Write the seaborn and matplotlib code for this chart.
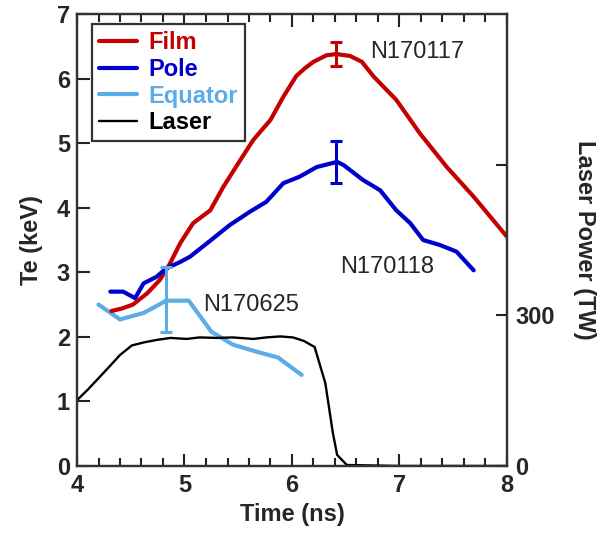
import numpy as np
import pandas as pd
import matplotlib
matplotlib.use("Agg")
import matplotlib.pyplot as plt
from matplotlib.lines import Line2D
from matplotlib.ticker import MultipleLocator
import seaborn as sns

# ---- data ----
film_t = [4.32, 4.42, 4.52, 4.65, 4.77, 4.86, 4.96, 5.08, 5.24, 5.36, 5.52, 5.64, 5.80,
          5.92, 6.04, 6.12, 6.20, 6.32, 6.41, 6.54, 6.65, 6.76, 6.97, 7.19, 7.44, 7.69, 8.00]
film_te = [2.40, 2.44, 2.50, 2.67, 2.88, 3.12, 3.45, 3.76, 3.96, 4.32, 4.74, 5.05, 5.36,
           5.72, 6.04, 6.16, 6.26, 6.36, 6.38, 6.35, 6.26, 6.03, 5.67, 5.15, 4.63, 4.17, 3.55]

pole_t = [4.31, 4.43, 4.54, 4.62, 4.74, 4.83, 4.96, 5.05, 5.21, 5.42, 5.61, 5.76, 5.92,
          6.07, 6.23, 6.42, 6.48, 6.66, 6.82, 6.97, 7.10, 7.22, 7.38, 7.53, 7.69]
pole_te = [2.70, 2.70, 2.60, 2.83, 2.93, 3.06, 3.16, 3.24, 3.45, 3.73, 3.94, 4.09, 4.38,
           4.48, 4.63, 4.71, 4.66, 4.43, 4.27, 3.96, 3.76, 3.50, 3.42, 3.32, 3.03]

eq_t = [4.20, 4.40, 4.62, 4.83, 5.04, 5.25, 5.45, 5.67, 5.87, 6.09]
eq_te = [2.50, 2.27, 2.37, 2.56, 2.56, 2.08, 1.88, 1.77, 1.68, 1.41]

laser_t = [4.00, 4.10, 4.21, 4.31, 4.40, 4.51, 4.62, 4.74, 4.87, 5.02, 5.14, 5.30, 5.45,
           5.64, 5.76, 5.89, 6.01, 6.11, 6.21, 6.31, 6.38, 6.42, 6.51, 7.00, 8.00]
laser_tw = [131, 152, 177, 200, 221, 240, 246, 251, 255, 253, 256, 255, 256,
            253, 256, 258, 256, 249, 237, 165, 66, 22, 2, 0, 0]

# error bars: time, value, lower err, upper err
film_err = (6.41, 6.38, 0.18, 0.19)
pole_err = (6.41, 4.71, 0.32, 0.33)
eq_err = (4.83, 2.56, 0.49, 0.52)

series_names = ["Film", "Pole", "Equator", "Laser"]
colors = {"Film": "#C40000", "Pole": "#0000CC", "Equator": "#5CACE8", "Laser": "#000000"}
shot_labels = ["N170117", "N170118", "N170625"]
right_ticks = [0, 300, 600]
right_ticklabels = ["0", "300", ""]

# ---- figure ----
sns.set_style("ticks")
plt.rcParams["font.family"] = ["Liberation Sans", "DejaVu Sans"]

fig = plt.figure(figsize=(6.08, 5.36), dpi=100)
ax = fig.add_axes([77 / 608, 1 - 466 / 536, 430 / 608, 452 / 536])

df_film = pd.DataFrame({"t": film_t, "te": film_te})
df_pole = pd.DataFrame({"t": pole_t, "te": pole_te})
df_eq = pd.DataFrame({"t": eq_t, "te": eq_te})
df_laser = pd.DataFrame({"t": laser_t, "p": laser_tw})

sns.lineplot(data=df_eq, x="t", y="te", ax=ax, color=colors["Equator"], lw=3.0,
             sort=False, estimator=None)
sns.lineplot(data=df_film, x="t", y="te", ax=ax, color=colors["Film"], lw=3.0,
             sort=False, estimator=None)
sns.lineplot(data=df_pole, x="t", y="te", ax=ax, color=colors["Pole"], lw=3.0,
             sort=False, estimator=None)

for (t, v, lo, hi), c in [(film_err, colors["Film"]), (pole_err, colors["Pole"]),
                          (eq_err, colors["Equator"])]:
    ax.errorbar([t], [v], yerr=[[lo], [hi]], fmt="none", ecolor=c, elinewidth=2.2,
                capsize=4, capthick=2.2)

ax.set_xlim(4, 8)
ax.set_ylim(0, 7)
ax.xaxis.set_major_locator(MultipleLocator(1))
ax.xaxis.set_minor_locator(MultipleLocator(0.2))
ax.yaxis.set_major_locator(MultipleLocator(1))

ax.text(6.73, 6.41, shot_labels[0], fontsize=17, va="center", ha="left")
ax.text(6.45, 3.08, shot_labels[1], fontsize=17, va="center", ha="left")
ax.text(5.17, 2.49, shot_labels[2], fontsize=17, va="center", ha="left")

ax.set_xlabel("Time (ns)", fontsize=17, fontweight="bold", labelpad=4)
ax.set_ylabel("Te (keV)", fontsize=17, fontweight="bold", labelpad=10)

ax2 = ax.twinx()
sns.lineplot(data=df_laser, x="t", y="p", ax=ax2, color=colors["Laser"], lw=1.7,
             sort=False, estimator=None)
ax2.set_ylim(0, 900)
ax2.set_xlim(4, 8)
ax2.set_yticks(right_ticks)
ax2.set_yticklabels(right_ticklabels)
ax2.set_ylabel("Laser Power (TW)", fontsize=17, fontweight="bold", rotation=270,
               labelpad=30)

handles = [Line2D([], [], color=colors[n], lw=3.0 if n != "Laser" else 1.7)
           for n in series_names]
leg = ax2.legend(handles, series_names, loc="upper left", bbox_to_anchor=(0.035, 0.977),
                 fancybox=False, framealpha=1, edgecolor="#333333", fontsize=17,
                 handlelength=1.6, handletextpad=0.5, borderpad=0.3, labelspacing=0.15,
                 borderaxespad=0)
leg.get_frame().set_linewidth(1.6)
for txt, n in zip(leg.get_texts(), series_names):
    txt.set_color(colors[n])
    txt.set_fontweight("bold")

tick_col = "#222222"
ax.tick_params(axis="x", which="major", direction="in", length=9, width=1.5,
               top=True, bottom=True, labelsize=17, pad=6, color=tick_col)
ax.tick_params(axis="x", which="minor", direction="in", length=6, width=1.5,
               top=True, bottom=True, color=tick_col)
ax.tick_params(axis="y", which="major", direction="in", length=9, width=1.5,
               left=True, right=False, labelsize=17, pad=5, color=tick_col)
ax2.tick_params(axis="y", direction="in", length=8, width=1.5, labelsize=17, pad=6,
                color=tick_col)
for a in (ax, ax2):
    for lab in a.get_xticklabels() + a.get_yticklabels():
        lab.set_fontweight("bold")
    for s in a.spines.values():
        s.set_visible(True)
        s.set_linewidth(1.6)
        s.set_color("#333333")

fig.savefig("out.png", dpi=100)
